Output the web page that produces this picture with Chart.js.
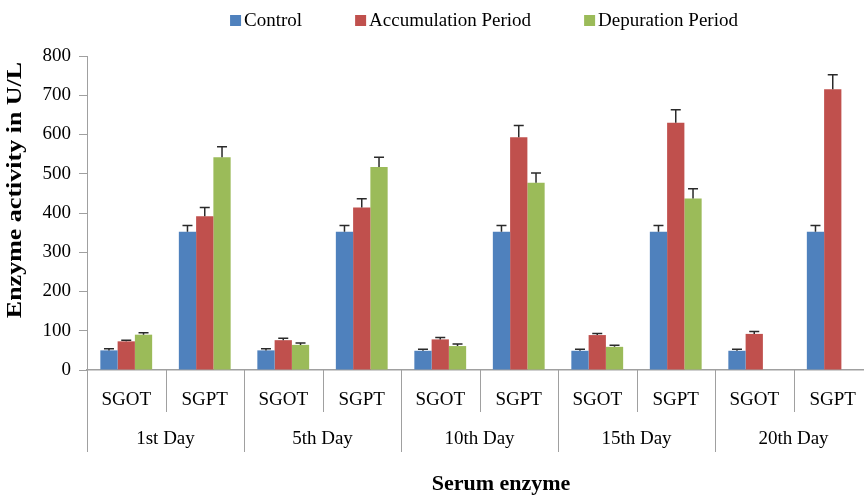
<!DOCTYPE html>
<html>
<head>
<meta charset="utf-8">
<script src="https://cdn.jsdelivr.net/npm/chart.js@4.4.1/dist/chart.umd.min.js"></script>
<style>
html, body { margin: 0; padding: 0; overflow: hidden; background: #fff; }
#wrap { width: 880px; height: 495px; position: relative; }
</style>
</head>
<body>
<div id="wrap"><canvas id="enzymeChart"></canvas></div>
<script>
// data
const enzymes = ["SGOT", "SGPT", "SGOT", "SGPT", "SGOT", "SGPT", "SGOT", "SGPT", "SGOT", "SGPT"];
const days = ["1st Day", "5th Day", "10th Day", "15th Day", "20th Day"];
const yTickValues = [0, 100, 200, 300, 400, 500, 600, 700, 800];

const control = [50, 352, 50, 352, 49, 352, 49, 352, 49, 352];
const controlErr = [4, 16, 4, 16, 4, 16, 4, 16, 4, 16];
const accumulation = [73, 392, 76, 414, 78, 593, 89, 630, 92, 715];
const accumulationErr = [3, 22, 5, 22, 5, 30, 4, 33, 6, 37];
const depuration = [90, 542, 64, 517, 61, 477, 59, 437, null, null];
const depurationErr = [5, 27, 5, 25, 5, 25, 4, 25, null, null];

const serif = "'Liberation Serif', 'Times New Roman', serif";
const axisGray = "#a0a0a0";

const errorBars = {
    id: "errorBars",
    afterDatasetsDraw(chart) {
        const ctx = chart.ctx;
        const y = chart.scales.y;
        ctx.save();
        ctx.strokeStyle = "#2a2a2a";
        ctx.lineWidth = 1.5;
        chart.data.datasets.forEach((ds, i) => {
            const meta = chart.getDatasetMeta(i);
            meta.data.forEach((bar, j) => {
                const v = ds.data[j];
                const e = ds.errors[j];
                if (v == null || e == null) return;
                const y0 = y.getPixelForValue(v);
                const y1 = y.getPixelForValue(v + e);
                ctx.beginPath();
                ctx.moveTo(bar.x, y0);
                ctx.lineTo(bar.x, y1);
                ctx.moveTo(bar.x - 5, y1);
                ctx.lineTo(bar.x + 5, y1);
                ctx.stroke();
            });
        });
        ctx.restore();
    }
};

const decorations = {
    id: "decorations",
    afterDraw(chart) {
        const ctx = chart.ctx;
        const x = chart.scales.x;
        const w = x.width / enzymes.length;
        ctx.save();

        // group separators under the x axis
        ctx.strokeStyle = axisGray;
        ctx.lineWidth = 1;
        for (let i = 0; i <= enzymes.length; i++) {
            const px = Math.round(x.left + i * w) + 0.5;
            const len = i % 2 === 0 ? 82 : 42;
            ctx.beginPath();
            ctx.moveTo(px, x.top);
            ctx.lineTo(px, x.top + len);
            ctx.stroke();
        }

        // day labels
        ctx.fillStyle = "#000";
        ctx.font = "19px " + serif;
        ctx.textAlign = "center";
        ctx.textBaseline = "middle";
        days.forEach((d, k) => {
            ctx.fillText(d, x.left + (2 * k + 1) * w, x.top + 69);
        });

        // x title
        ctx.font = "bold 22px " + serif;
        ctx.fillText("Serum enzyme", 501, 484);

        // y title
        ctx.save();
        ctx.translate(16, 190);
        ctx.rotate(-Math.PI / 2);
        ctx.scale(1, 0.8);
        ctx.font = "bold 26px " + serif;
        ctx.fillText("Enzyme activity in U/L", 0, 0);
        ctx.restore();

        // legend
        ctx.font = "19px " + serif;
        ctx.textAlign = "left";
        const gap = 53;
        const items = chart.data.datasets.map(ds => ({
            label: ds.label,
            color: ds.backgroundColor,
            width: 14 + ctx.measureText(ds.label).width
        }));
        const total = items.reduce((s, it) => s + it.width, 0) + gap * (items.length - 1);
        let lx = 484 - total / 2;
        items.forEach(it => {
            ctx.fillStyle = it.color;
            ctx.fillRect(lx, 15, 11, 11);
            ctx.fillStyle = "#000";
            ctx.fillText(it.label, lx + 14, 21);
            lx += it.width + gap;
        });

        ctx.restore();
    }
};

const ctx = document.getElementById("enzymeChart");

new Chart(ctx, {
    type: "bar",
    data: {
        labels: enzymes,
        datasets: [
            {
                label: "Control",
                data: control,
                errors: controlErr,
                backgroundColor: "#4F81BD"
            },
            {
                label: "Accumulation Period",
                data: accumulation,
                errors: accumulationErr,
                backgroundColor: "#C0504D"
            },
            {
                label: "Depuration Period",
                data: depuration,
                errors: depurationErr,
                backgroundColor: "#9BBB59"
            }
        ]
    },
    options: {
        responsive: true,
        maintainAspectRatio: false,
        animation: false,
        layout: { padding: { top: 56, right: 8, bottom: 0, left: 0 } },
        datasets: {
            bar: { categoryPercentage: 0.66, barPercentage: 1.0 }
        },
        plugins: {
            legend: { display: false },
            tooltip: { enabled: false }
        },
        scales: {
            x: {
                grid: { display: false },
                border: { display: true, color: axisGray, width: 1.5 },
                ticks: {
                    color: "#000",
                    font: { family: serif, size: 19 },
                    padding: 11,
                    maxRotation: 0,
                    autoSkip: false
                },
                afterFit(scale) { scale.height = 125; }
            },
            y: {
                min: 0,
                max: 800,
                grid: {
                    display: true,
                    drawOnChartArea: false,
                    drawTicks: true,
                    tickLength: 8,
                    color: axisGray
                },
                border: { display: true, color: axisGray, width: 1 },
                ticks: {
                    color: "#000",
                    font: { family: serif, size: 19 },
                    padding: 8
                },
                afterBuildTicks(scale) {
                    scale.ticks = yTickValues.map(v => ({ value: v }));
                },
                afterFit(scale) { scale.width = 87; }
            }
        }
    },
    plugins: [errorBars, decorations]
});
</script>
</body>
</html>
